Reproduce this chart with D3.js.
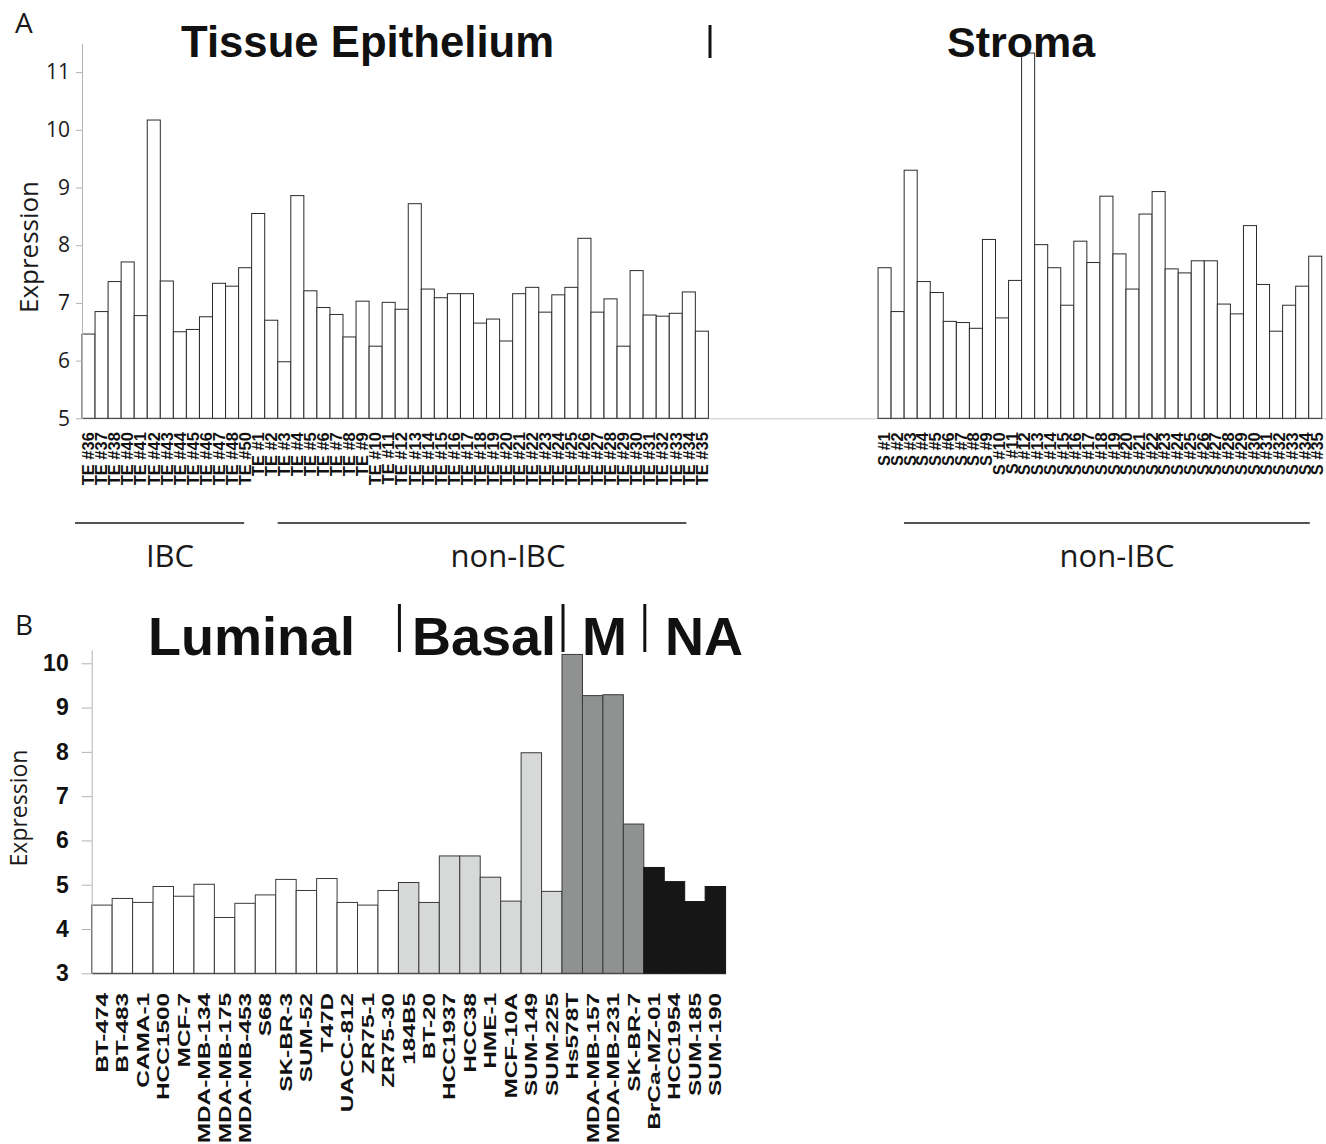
<!DOCTYPE html>
<html>
<head>
<meta charset="utf-8">
<script src="https://cdn.jsdelivr.net/npm/d3@7/dist/d3.min.js"></script>
<style>
  body { margin: 0; background: #fff; }
  svg { display: block; }
</style>
</head>
<body>
<div id="chart"></div>
<script>
// panel A - tissue epithelium samples (IBC first, then non-IBC)
var teLabels = ["TE #36","TE #37","TE #38","TE #40","TE #41","TE #42","TE #43","TE #44","TE #45","TE #46","TE #47","TE #48","TE #50",
  "TE #1","TE #2","TE #3","TE #4","TE #5","TE #6","TE #7","TE #8","TE #9","TE #10","TE #11","TE #12","TE #13","TE #14","TE #15",
  "TE #16","TE #17","TE #18","TE #19","TE #20","TE #21","TE #22","TE #23","TE #24","TE #25","TE #26","TE #27","TE #28","TE #29",
  "TE #30","TE #31","TE #32","TE #33","TE #34","TE #35"];
var teValues = [6.46,6.85,7.37,7.71,6.78,10.17,7.38,6.50,6.54,6.76,7.34,7.29,7.61,
  8.55,6.70,5.98,8.86,7.21,6.92,6.80,6.41,7.03,6.25,7.01,6.89,8.72,7.24,7.09,
  7.16,7.16,6.65,6.72,6.34,7.16,7.27,6.84,7.14,7.27,8.12,6.84,7.07,6.25,
  7.56,6.79,6.77,6.82,7.19,6.51];

// stroma samples (last bar is cut off by the figure edge)
var sLabels = ["S #1","S #2","S #3","S #4","S #5","S #6","S #7","S #8","S #9","S #10","S #11","S #12","S #13","S #14","S #15",
  "S #16","S #17","S #18","S #19","S #20","S #21","S #22","S #23","S #24","S #25","S #26","S #27","S #28","S #29","S #30",
  "S #31","S #32","S #33","S #34","S #35"];
var sValues = [7.61,6.85,9.30,7.37,7.18,6.68,6.66,6.56,8.10,6.74,7.39,11.33,8.01,7.61,6.96,
  8.07,7.70,8.85,7.85,7.24,8.54,8.93,7.59,7.52,7.73,7.73,6.98,6.81,8.34,7.32,
  6.51,6.96,7.29,7.81];

var yTicksA = [5,6,7,8,9,10,11];

// panel B - cell lines
var cellLines = ["BT-474","BT-483","CAMA-1","HCC1500","MCF-7","MDA-MB-134","MDA-MB-175","MDA-MB-453","S68","SK-BR-3",
  "SUM-52","T47D","UACC-812","ZR75-1","ZR75-30","184B5","BT-20","HCC1937","HCC38","HME-1","MCF-10A","SUM-149","SUM-225",
  "Hs578T","MDA-MB-157","MDA-MB-231","SK-BR-7","BrCa-MZ-01","HCC1954","SUM-185","SUM-190"];
var cellValues = [4.54,4.69,4.60,4.96,4.74,5.01,4.26,4.58,4.77,5.12,
  4.87,5.14,4.60,4.54,4.87,5.05,4.60,5.65,5.65,5.17,4.63,7.98,4.85,
  10.20,9.27,9.29,6.37,5.39,5.07,4.62,4.96];
var cellSubtype = ["Luminal","Luminal","Luminal","Luminal","Luminal","Luminal","Luminal","Luminal","Luminal","Luminal",
  "Luminal","Luminal","Luminal","Luminal","Luminal","Basal","Basal","Basal","Basal","Basal","Basal","Basal","Basal",
  "M","M","M","M","NA","NA","NA","NA"];
var subtypes = ["Luminal","Basal","M","NA"];
var subtypeFill = ["#ffffff","#d7d8d8","#909292","#161616"];

var yTicksB = [3,4,5,6,7,8,9,10];

var W = 1326, H = 1144;
var svg = d3.select("#chart").append("svg")
    .attr("width", W)
    .attr("height", H)
    .style("font-family", "'Liberation Sans', Arial, sans-serif");

var regular = "'Open Sans', 'Noto Sans', sans-serif";

// ---------------- panel A ----------------
var gapSlots = d3.range(13).map(function (i) { return "gap" + i; });
var slotW = 13.05;
var xA = d3.scaleBand()
    .domain(teLabels.concat(gapSlots, sLabels))
    .range([82, 82 + 96 * slotW]);
var yA = d3.scaleLinear().domain([5, 11.5]).range([418.3, 43.3]);

// baseline
var xAxisA = svg.append("g")
    .attr("transform", "translate(0," + yA(5) + ")")
    .call(d3.axisBottom(xA).tickValues(teLabels).tickSize(0).tickSizeOuter(0));
xAxisA.select(".domain").attr("stroke", "#c8c8c8");
xAxisA.selectAll("text")
    .attr("transform", "rotate(-90) scale(1.03,1)")
    .attr("x", -13.5)
    .attr("y", 0)
    .attr("dy", "0.36em")
    .style("text-anchor", "end")
    .style("font-size", "16px")
    .style("font-weight", "bold")
    .attr("fill", "#111");

// stroma labels sit on their own (slightly tighter) spacing
var xS = d3.scaleBand().domain(sLabels).range([878, 1324]);
var sAxis = svg.append("g")
    .attr("transform", "translate(0," + yA(5) + ")")
    .call(d3.axisBottom(xS).tickSize(0).tickSizeOuter(0));
sAxis.select(".domain").remove();
sAxis.selectAll("text")
    .attr("transform", "rotate(-90) scale(1.03,1)")
    .attr("x", -13.5)
    .attr("y", 0)
    .attr("dy", "0.36em")
    .style("text-anchor", "end")
    .style("font-size", "16px")
    .style("font-weight", "bold")
    .attr("fill", "#111");

var teData = teLabels.map(function (l, i) { return { label: l, value: teValues[i] }; });
var sData = sValues.map(function (v, i) { return { label: sLabels[i], value: v }; });

svg.append("g").selectAll("rect")
    .data(teData.concat(sData))
    .enter()
    .append("rect")
    .attr("x", function (d) { return xA(d.label); })
    .attr("y", function (d) { return yA(d.value); })
    .attr("width", xA.bandwidth())
    .attr("height", function (d) { return yA(5) - yA(d.value); })
    .attr("fill", "#fff")
    .attr("stroke", "#2b2b2b")
    .attr("stroke-width", 1);

var yAxisA = svg.append("g")
    .attr("transform", "translate(82,0)")
    .call(d3.axisLeft(yA).tickValues(yTicksA).tickFormat(d3.format("d"))
      .tickSize(6).tickSizeOuter(0).tickPadding(6));
yAxisA.select(".domain").attr("stroke", "#b3b3b3");
yAxisA.selectAll(".tick line").attr("stroke", "#b3b3b3");
yAxisA.selectAll("text")
    .style("font-family", regular)
    .style("font-size", "21px")
    .attr("fill", "#1a1a1a");

svg.append("text")
    .attr("transform", "translate(38,247) rotate(-90)")
    .style("text-anchor", "middle")
    .style("font-family", regular)
    .style("font-size", "26px")
    .attr("fill", "#1a1a1a")
    .text("Expression");

svg.append("text").attr("x", 15).attr("y", 33)
    .style("font-family", regular).style("font-size", "28px").attr("fill", "#1a1a1a")
    .text("A");

svg.append("text").attr("x", 181).attr("y", 57)
    .style("font-size", "43.7px").style("font-weight", "bold").attr("fill", "#111")
    .text("Tissue Epithelium");
svg.append("text").attr("x", 947).attr("y", 57)
    .style("font-size", "43px").style("font-weight", "bold").attr("fill", "#111")
    .text("Stroma");
svg.append("line")
    .attr("x1", 710).attr("x2", 710).attr("y1", 25).attr("y2", 58)
    .attr("stroke", "#111").attr("stroke-width", 3);

// group brackets under panel A
var bw = xA.bandwidth();
var groupLines = [
  { x1: xA("TE #36") - 7, x2: xA("TE #50") + bw - 7.5, label: "IBC", tx: 170 },
  { x1: xA("TE #1") + 26, x2: xA("TE #35") + bw - 22, label: "non-IBC", tx: 508 },
  { x1: xA("S #1") + 26, x2: xA("S #35") + bw - 25, label: "non-IBC", tx: 1117 }
];
var gl = svg.append("g").selectAll("g").data(groupLines).enter().append("g");
gl.append("line")
    .attr("x1", function (d) { return d.x1; })
    .attr("x2", function (d) { return d.x2; })
    .attr("y1", 523).attr("y2", 523)
    .attr("stroke", "#1a1a1a").attr("stroke-width", 1.5);
gl.append("text")
    .attr("x", function (d) { return d.tx; })
    .attr("y", 567)
    .style("text-anchor", "middle")
    .style("font-family", regular)
    .style("font-size", "31px")
    .attr("fill", "#1a1a1a")
    .text(function (d) { return d.label; });

// ---------------- panel B ----------------
var xB = d3.scaleBand().domain(cellLines).range([91.7, 725.6]);
var yB = d3.scaleLinear().domain([3, 10.3]).range([973.3, 650]);
var fillOf = d3.scaleOrdinal().domain(subtypes).range(subtypeFill);

var cellData = cellLines.map(function (c, i) {
  return { label: c, value: cellValues[i], subtype: cellSubtype[i] };
});

var xAxisB = svg.append("g")
    .attr("transform", "translate(0," + yB(3) + ")")
    .call(d3.axisBottom(xB).tickSize(0).tickSizeOuter(0));
xAxisB.select(".domain").attr("stroke", "#555");
xAxisB.selectAll("text")
    .attr("transform", "rotate(-90) scale(1.48,1)")
    .attr("x", -13.2)
    .attr("y", 0)
    .attr("dy", "0.36em")
    .style("text-anchor", "end")
    .style("font-size", "16.5px")
    .style("font-weight", "bold")
    .attr("fill", "#111");

svg.append("g").selectAll("rect")
    .data(cellData)
    .enter()
    .append("rect")
    .attr("x", function (d) { return xB(d.label); })
    .attr("y", function (d) { return yB(d.value); })
    .attr("width", xB.bandwidth())
    .attr("height", function (d) { return yB(3) - yB(d.value); })
    .attr("fill", function (d) { return fillOf(d.subtype); })
    .attr("stroke", function (d) { return d.subtype === "NA" ? "#161616" : "#3a3a3a"; })
    .attr("stroke-width", 1);

var yAxisB = svg.append("g")
    .attr("transform", "translate(91.7,0)")
    .call(d3.axisLeft(yB).tickValues(yTicksB).tickSize(10).tickSizeOuter(0).tickPadding(13));
yAxisB.select(".domain").attr("stroke", "#b3b3b3");
yAxisB.selectAll(".tick line").attr("stroke", "#b3b3b3");
yAxisB.selectAll("text")
    .style("font-size", "23px")
    .style("font-weight", "bold")
    .attr("fill", "#111");

svg.append("text")
    .attr("transform", "translate(27,808) rotate(-90)")
    .style("text-anchor", "middle")
    .style("font-family", regular)
    .style("font-size", "23px")
    .attr("fill", "#1a1a1a")
    .text("Expression");

svg.append("text").attr("x", 15).attr("y", 635)
    .style("font-family", regular).style("font-size", "28px").attr("fill", "#1a1a1a")
    .text("B");

// subtype headings and separators
var headX = [148, 412, 582, 665];
svg.append("g").selectAll("text")
    .data(subtypes)
    .enter()
    .append("text")
    .attr("x", function (d, i) { return headX[i]; })
    .attr("y", 655)
    .style("font-size", "54px")
    .style("font-weight", "bold")
    .attr("fill", "#111")
    .text(function (d) { return d; });

var sepAt = ["184B5", "Hs578T", "BrCa-MZ-01"];
svg.append("g").selectAll("line")
    .data(sepAt)
    .enter()
    .append("line")
    .attr("x1", function (d) { return xB(d) + 1; })
    .attr("x2", function (d) { return xB(d) + 1; })
    .attr("y1", 604).attr("y2", 652)
    .attr("stroke", "#111").attr("stroke-width", 3);
</script>
</body>
</html>
